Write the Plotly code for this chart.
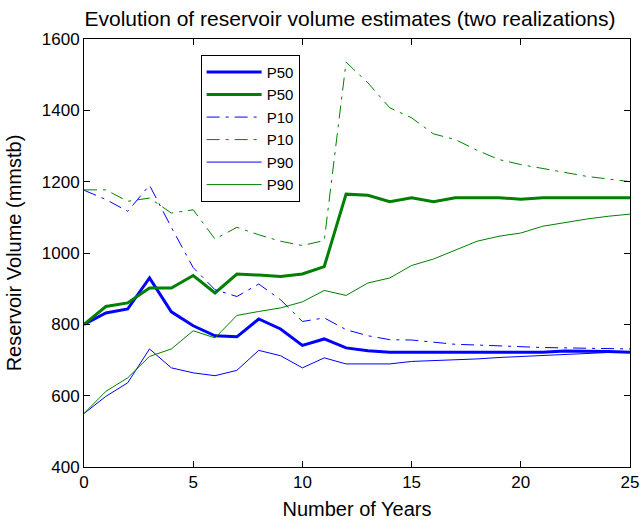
import plotly.graph_objects as go

years = list(range(26))

blue_p50 = [800, 832, 843, 930, 835, 796, 768, 765, 815, 787, 741, 759, 734, 726, 722, 722,
            722, 722, 722, 722, 722, 722, 725, 725, 724, 722]
green_p50 = [800, 850, 860, 902, 902, 937, 888, 941, 938, 934, 941, 962, 1165, 1162, 1144, 1155,
             1144, 1155, 1155, 1155, 1151, 1155, 1155, 1155, 1155, 1155]
blue_p10 = [1176, 1150, 1117, 1190, 1072, 959, 897, 878, 913, 869, 808, 818, 785, 768, 757, 756,
            750, 744, 742, 739, 736, 735, 734, 733, 732, 731]
green_p10 = [1177, 1177, 1145, 1154, 1112, 1121, 1039, 1072, 1051, 1033, 1021, 1035, 1535, 1477,
             1407, 1379, 1334, 1318, 1288, 1262, 1248, 1236, 1226, 1215, 1207, 1200]
blue_p90 = [550, 598, 636, 731, 678, 664, 656, 671, 727, 712, 678, 706, 689, 689, 689, 696,
            698, 700, 703, 707, 710, 713, 717, 720, 721, 721]
green_p90 = [550, 612, 650, 710, 731, 782, 762, 825, 836, 846, 863, 895, 881, 916, 930, 965,
             983, 1009, 1033, 1047, 1056, 1075, 1086, 1095, 1103, 1109]

BLUE = "rgb(0,0,255)"
GREEN = "rgb(0,128,0)"
DASHDOT = "13px,6px,3px,6px"

series = [
    ("P50", blue_p50, BLUE, 3, "solid"),
    ("P50", green_p50, GREEN, 3, "solid"),
    ("P10", blue_p10, BLUE, 1, DASHDOT),
    ("P10", green_p10, GREEN, 1, DASHDOT),
    ("P90", blue_p90, BLUE, 1, "solid"),
    ("P90", green_p90, GREEN, 1, "solid"),
]

fig = go.Figure()
for name, vals, color, w, dash in series:
    fig.add_trace(go.Scatter(x=years, y=vals, mode="lines", name=name,
                             line=dict(color=color, width=w, dash=dash)))

FONT = "Liberation Sans, Arial, Helvetica, sans-serif"
axis_common = dict(showline=True, linecolor="black", linewidth=1, mirror="ticks",
                   ticks="inside", ticklen=6, tickcolor="black", showgrid=False,
                   zeroline=False, automargin=False,
                   tickfont=dict(size=17, color="black"))

fig.update_layout(
    width=641, height=520,
    margin=dict(l=84, r=11, t=39, b=53),
    paper_bgcolor="white", plot_bgcolor="white",
    font=dict(family=FONT, color="black"),
    title=dict(text="Evolution of reservoir volume estimates (two realizations)",
               x=0.546, xanchor="center", y=0.965, yanchor="middle",
               font=dict(size=21, color="black")),
    xaxis=dict(range=[0, 25], tickvals=[0, 5, 10, 15, 20, 25],
               title=dict(text="Number of Years", font=dict(size=20), standoff=10),
               **axis_common),
    yaxis=dict(range=[400, 1600], tickvals=[400, 600, 800, 1000, 1200, 1400, 1600],
               title=dict(text="Reservoir Volume (mmstb)", font=dict(size=20), standoff=14),
               **axis_common),
    legend=dict(x=0.2136, y=0.963, xanchor="left", yanchor="top",
                bordercolor="black", borderwidth=1, bgcolor="white",
                font=dict(size=15, color="black"), tracegroupgap=0, itemwidth=55),
    showlegend=True,
)

fig.write_html("out.html")
